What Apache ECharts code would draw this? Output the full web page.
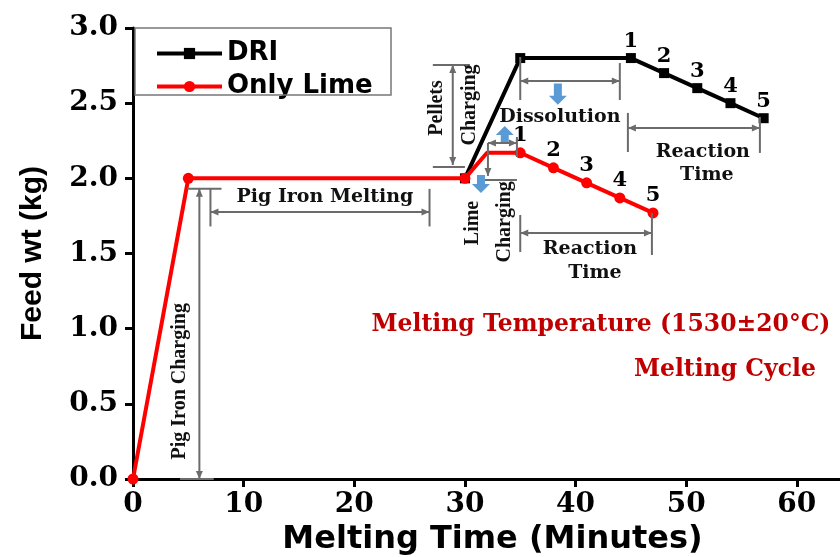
<!DOCTYPE html>
<html>
<head>
<meta charset="utf-8">
<script src="https://cdn.jsdelivr.net/npm/echarts@6/dist/echarts.min.js"></script>
<style>
  html, body { margin: 0; padding: 0; background: #fff; }
  #main { width: 840px; height: 557px; }
</style>
</head>
<body>
<div id="main"></div>
<script>
  // DRI curve
  const driTime = [30, 35, 45, 48, 51, 54, 57];
  const driWt = [2.0, 2.8, 2.8, 2.7, 2.6, 2.5, 2.4];
  const driNums = ['', '', '1', '2', '3', '4', '5'];
  // Only lime curve
  const limeTime = [0, 5, 30, 32, 35, 38, 41, 44, 47];
  const limeWt = [0, 2.0, 2.0, 2.17, 2.17, 2.07, 1.97, 1.87, 1.77];
  const limeNums = ['', '', '', '', '1', '2', '3', '4', '5'];
  const limeMarks = [true, true, true, false, true, true, true, true, true];

  const GREY = '#6b6b6b';
  const BLUE = '#5b9bd5';
  const RED_TXT = '#c00000';
  const serifH = 'bold 19px "DejaVu Serif"';
  const serifV = 'bold 20px "Liberation Serif"';
  const redFont = 'bold 23.5px "DejaVu Serif"';

  // dimension lines, in (minutes, kg): [x1, y1, x2, y2, arrowAtStart, arrowAtEnd]
  const dimLines = [
    [6.0, 1.93, 6.0, 0.0, true, true],      // pig iron charging
    [4.9, 1.93, 8.0, 1.93, false, false],
    [4.25, 0.0, 7.3, 0.0, false, false],
    [7.0, 1.776, 26.8, 1.776, true, true],  // pig iron melting
    [7.0, 1.93, 7.0, 1.68, false, false],
    [26.8, 1.93, 26.8, 1.68, false, false],
    [28.9, 2.754, 28.9, 2.089, true, true], // pellets charging
    [27.1, 2.754, 30.45, 2.754, false, false],
    [27.1, 2.075, 30.0, 2.075, false, false],
    [35.0, 2.647, 44.0, 2.647, true, true], // dissolution
    [35.0, 2.807, 35.0, 2.521, false, false],
    [44.0, 2.767, 44.0, 2.521, false, false],
    [44.73, 2.335, 56.66, 2.335, true, true], // DRI reaction time
    [44.73, 2.435, 44.73, 2.175, false, false],
    [56.66, 2.408, 56.66, 2.169, false, false],
    [32.08, 2.235, 34.7, 2.235, true, true], // lime charging
    [34.7, 2.275, 34.7, 2.142, false, false],
    [32.08, 2.235, 32.08, 2.016, false, true],
    [31.8, 1.989, 34.7, 1.989, false, false],
    [35.0, 1.636, 46.9, 1.636, true, true], // lime reaction time
    [35.0, 1.756, 35.0, 1.51, false, false],
    [46.9, 1.77, 46.9, 1.49, false, false]
  ];
  // blue block arrows: [x, yFrom, yTo]
  const blueArrows = [
    [38.4, 2.63, 2.49],
    [33.6, 2.242, 2.348],
    [31.45, 2.022, 1.902]
  ];
  // texts: [text, x, y, vertical, font, colour]
  const notes = [
    ['Pig Iron Charging', 4.25, 0.65, true, serifV, '#111'],
    ['Pig Iron Melting', 17.35, 1.876, false, serifH, '#111'],
    ['Pellets', 27.47, 2.468, true, serifV, '#111'],
    ['Charging', 30.45, 2.488, true, serifV, '#111'],
    ['Dissolution', 38.58, 2.408, false, serifH, '#111'],
    ['Reaction', 51.5, 2.175, false, serifH, '#111'],
    ['Time', 51.87, 2.022, false, serifH, '#111'],
    ['Lime', 30.72, 1.703, true, serifV, '#111'],
    ['Charging', 33.6, 1.71, true, serifV, '#111'],
    ['Reaction', 41.3, 1.53, false, serifH, '#111'],
    ['Time', 41.75, 1.37, false, serifH, '#111'],
    ['Melting Temperature (1530\u00b120\u00b0C)', 42.3, 1.024, false, redFont, RED_TXT],
    ['Melting Cycle', 53.5, 0.725, false, redFont, RED_TXT]
  ];

  const chart = echarts.init(document.getElementById('main'));

  const numLabel = {
    position: 'top',
    distance: 1,
    fontFamily: 'DejaVu Serif',
    fontWeight: 'bold',
    fontSize: 21,
    color: '#000'
  };

  const option = {
    animation: false,
    backgroundColor: '#fff',
    grid: { left: 133, right: 0, top: 28, bottom: 78, outerBoundsMode: 'none' },
    legend: {
      orient: 'vertical',
      left: 150,
      top: 34,
      itemWidth: 65,
      itemHeight: 14,
      itemGap: 4,
      lineStyle: { width: 4 },
      textStyle: { fontFamily: 'DejaVu Sans', fontWeight: 'bold', fontSize: 26, color: '#000', lineHeight: 29 },
      data: ['DRI', 'Only Lime']
    },
    xAxis: [{
      type: 'value',
      min: 0,
      max: 63.9,
      interval: 10,
      name: 'Melting Time (Minutes)',
      nameLocation: 'middle',
      nameGap: 44,
      nameTextStyle: { fontFamily: 'DejaVu Sans', fontWeight: 'bold', fontSize: 32, color: '#000', padding: [0, 0, 0, 12] },
      axisLine: { show: true, onZero: false, lineStyle: { color: '#000', width: 3 } },
      axisTick: { show: true, length: 8, lineStyle: { color: '#000', width: 3 } },
      axisLabel: { margin: 12, showMaxLabel: false, fontFamily: 'DejaVu Serif', fontWeight: 'bold', fontSize: 28, color: '#000' },
      splitLine: { show: false }
    }, {
      type: 'value',
      position: 'top',
      min: 0,
      max: 63.9,
      axisLine: { show: true, lineStyle: { color: '#000', width: 3 } },
      axisTick: { show: false },
      axisLabel: { show: false },
      splitLine: { show: false }
    }],
    yAxis: {
      type: 'value',
      min: 0,
      max: 3,
      interval: 0.5,
      name: 'Feed wt (kg)',
      nameLocation: 'middle',
      nameGap: 85,
      nameTextStyle: { fontFamily: 'Liberation Sans', fontWeight: 'bold', fontSize: 30, color: '#000' },
      axisLine: { show: true, lineStyle: { color: '#000', width: 3 } },
      axisTick: { show: true, length: 8, lineStyle: { color: '#000', width: 3 } },
      axisLabel: {
        margin: 15,
        fontFamily: 'DejaVu Serif', fontWeight: 'bold', fontSize: 28, color: '#000',
        formatter: v => v.toFixed(1)
      },
      splitLine: { show: false }
    },
    series: [{
      name: 'DRI',
      type: 'line',
      z: 2,
      symbol: 'rect',
      symbolSize: 10,
      lineStyle: { color: '#000', width: 4 },
      itemStyle: { color: '#000' },
      label: numLabel,
      data: driTime.map((t, i) => ({
        value: [t, driWt[i]],
        label: { show: driNums[i] !== '', formatter: driNums[i] }
      }))
    }, {
      name: 'Only Lime',
      type: 'line',
      z: 3,
      symbol: 'circle',
      symbolSize: 11,
      lineStyle: { color: '#ff0000', width: 4 },
      itemStyle: { color: '#ff0000' },
      label: numLabel,
      data: limeTime.map((t, i) => ({
        value: [t, limeWt[i]],
        symbol: limeMarks[i] ? 'circle' : 'none',
        label: { show: limeNums[i] !== '', formatter: limeNums[i] }
      }))
    }]
  };
  chart.setOption(option);

  // annotations drawn on top, positioned through the axes
  const px = p => chart.convertToPixel({ gridIndex: 0 }, p);

  function arrowHead(tip, from) {
    const dx = tip[0] - from[0], dy = tip[1] - from[1];
    const len = Math.sqrt(dx * dx + dy * dy) || 1;
    const ux = dx / len, uy = dy / len;
    const L = 8, W = 3.5;
    const bx = tip[0] - ux * L, by = tip[1] - uy * L;
    return {
      type: 'polygon',
      z: 100,
      shape: { points: [tip, [bx - uy * W, by + ux * W], [bx + uy * W, by - ux * W]] },
      style: { fill: GREY }
    };
  }

  const graphics = [];
  // legend frame
  graphics.push({
    type: 'rect',
    z: 90,
    shape: { x: 135, y: 28, width: 256, height: 67 },
    style: { fill: 'none', stroke: '#777', lineWidth: 1.5 }
  });

  dimLines.forEach(d => {
    const a = px([d[0], d[1]]), b = px([d[2], d[3]]);
    graphics.push({
      type: 'line',
      z: 100,
      shape: { x1: a[0], y1: a[1], x2: b[0], y2: b[1] },
      style: { stroke: GREY, lineWidth: 2 }
    });
    if (d[4]) graphics.push(arrowHead(a, b));
    if (d[5]) graphics.push(arrowHead(b, a));
  });

  blueArrows.forEach(b => {
    const s = px([b[0], b[1]]), e = px([b[0], b[2]]);
    const dir = e[1] > s[1] ? 1 : -1;
    const x = s[0], head = 9, sw = 4, hw = 9;
    const neck = e[1] - dir * head;
    graphics.push({
      type: 'polygon',
      z: 100,
      shape: {
        points: [
          [x - sw, s[1]], [x + sw, s[1]], [x + sw, neck], [x + hw, neck],
          [x, e[1]], [x - hw, neck], [x - sw, neck]
        ]
      },
      style: { fill: BLUE }
    });
  });

  notes.forEach(n => {
    const p = px([n[1], n[2]]);
    graphics.push({
      type: 'text',
      z: 110,
      x: p[0],
      y: p[1],
      rotation: n[3] ? Math.PI / 2 : 0,
      style: { text: n[0], font: n[4], fill: n[5], align: 'center', verticalAlign: 'middle' }
    });
  });

  chart.setOption({ graphic: graphics });
</script>
</body>
</html>
